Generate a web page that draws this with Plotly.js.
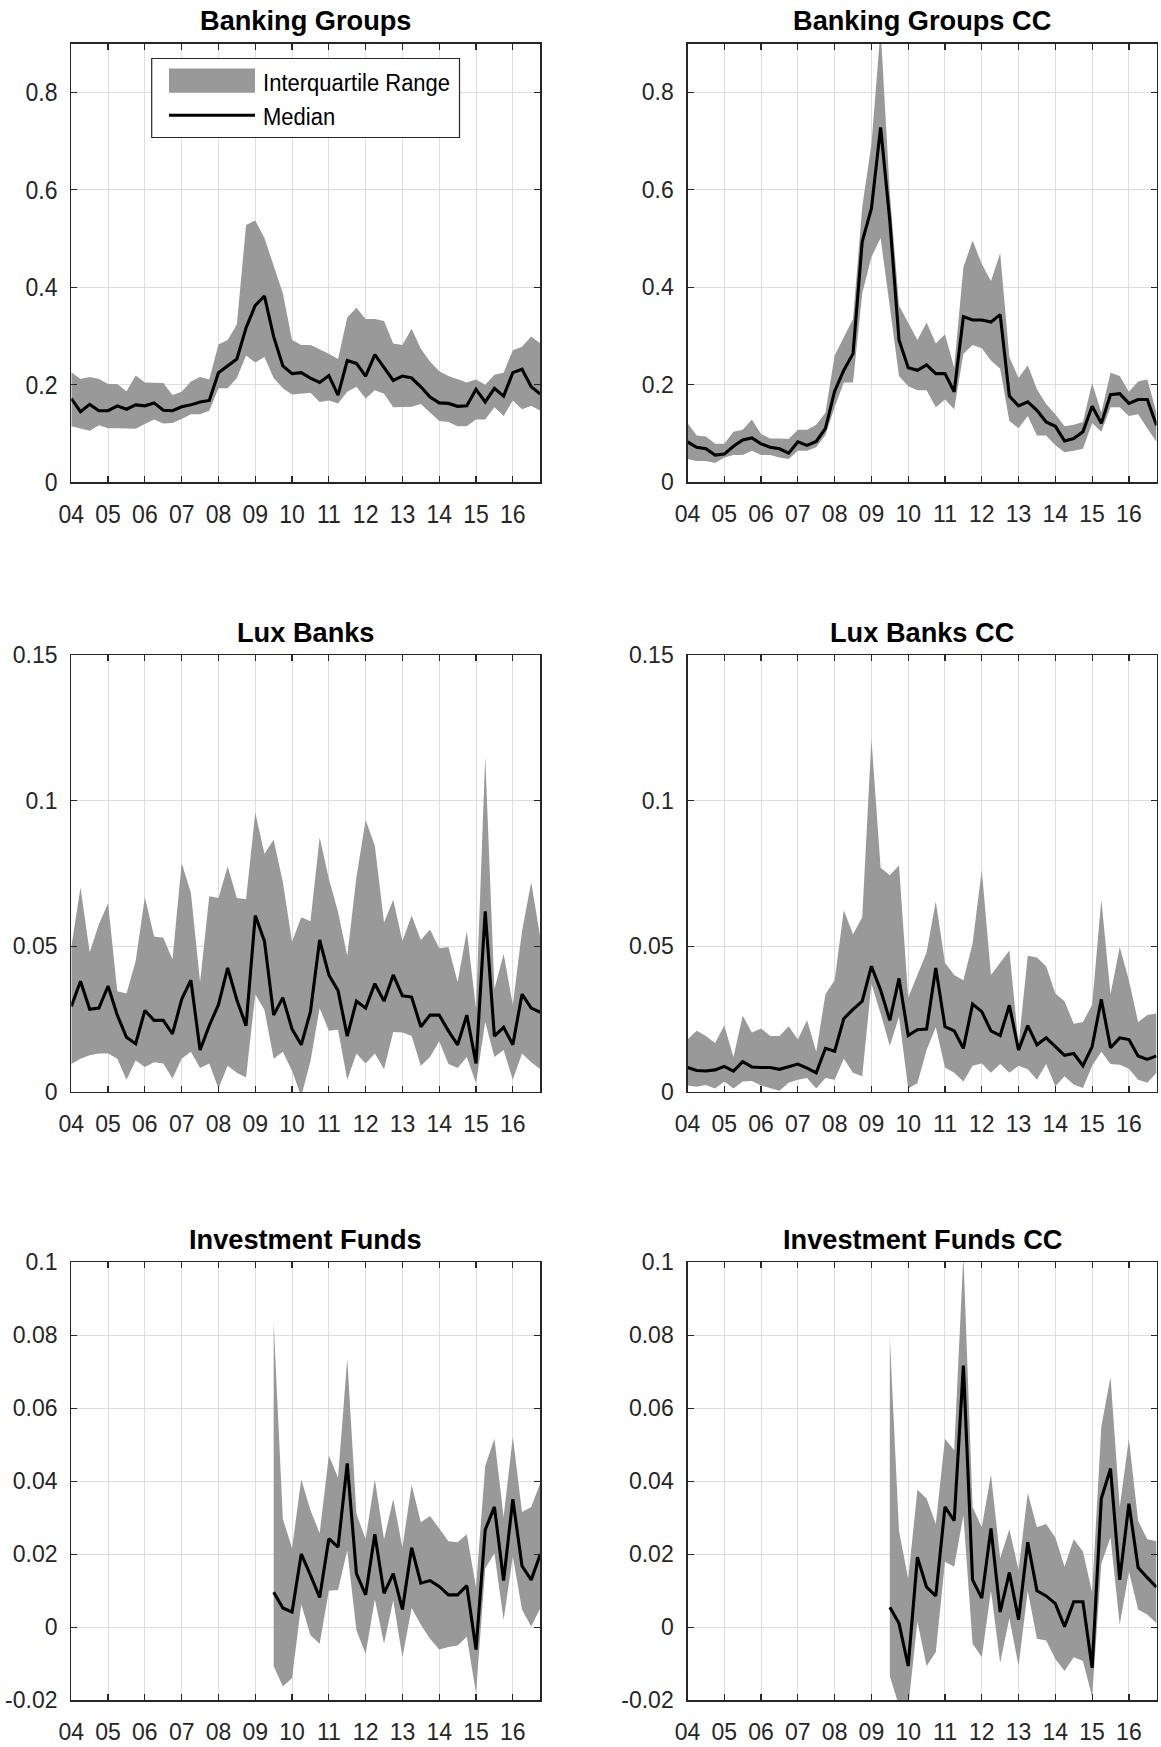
<!DOCTYPE html>
<html>
<head>
<meta charset="utf-8">
<script src="https://cdn.plot.ly/plotly-3.0.1.min.js"></script>
<style>
  html, body { margin: 0; padding: 0; background: #ffffff; }
  #chart { width: 1161px; height: 1747px; }
</style>
</head>
<body>
<div id="chart"></div>
<script>
// Quarterly observation dates (decimal years), 2004Q1 .. 2016Q4
const quarters = [
  2004.00, 2004.25, 2004.50, 2004.75, 2005.00, 2005.25, 2005.50, 2005.75,
  2006.00, 2006.25, 2006.50, 2006.75, 2007.00, 2007.25, 2007.50, 2007.75,
  2008.00, 2008.25, 2008.50, 2008.75, 2009.00, 2009.25, 2009.50, 2009.75,
  2010.00, 2010.25, 2010.50, 2010.75, 2011.00, 2011.25, 2011.50, 2011.75,
  2012.00, 2012.25, 2012.50, 2012.75, 2013.00, 2013.25, 2013.50, 2013.75,
  2014.00, 2014.25, 2014.50, 2014.75, 2015.00, 2015.25, 2015.50, 2015.75,
  2016.00, 2016.25, 2016.50, 2016.75
];

const yearTicks  = [2004, 2005, 2006, 2007, 2008, 2009, 2010, 2011, 2012, 2013, 2014, 2015, 2016];
const yearLabels = ['04', '05', '06', '07', '08', '09', '10', '11', '12', '13', '14', '15', '16'];

const bankingTicks  = [0, 0.2, 0.4, 0.6, 0.8];
const bankingLabels = ['0', '0.2', '0.4', '0.6', '0.8'];
const luxTicks      = [0, 0.05, 0.1, 0.15];
const luxLabels     = ['0', '0.05', '0.1', '0.15'];
const fundTicks     = [-0.02, 0, 0.02, 0.04, 0.06, 0.08, 0.1];
const fundLabels    = ['-0.02', '0', '0.02', '0.04', '0.06', '0.08', '0.1'];

// Banking Groups
const bgMed = [0.172,0.145,0.160,0.147,0.147,0.157,0.150,0.159,0.157,0.163,0.148,0.147,0.155,0.159,0.165,0.168,
  0.225,0.239,0.253,0.317,0.363,0.382,0.299,0.239, 0.223,0.225,0.214,0.205,0.219,0.179,0.250,0.244,
  0.218,0.262,0.235,0.209,0.218,0.214,0.196,0.175, 0.163,0.162,0.156,0.157,0.191,0.165,0.193,0.177,
  0.225,0.232,0.196,0.181];
const bgUp = [0.226,0.212,0.216,0.212,0.202,0.202,0.187,0.219,0.205,0.204,0.204,0.179,0.186,0.207,0.216,0.211,
  0.283,0.292,0.324,0.528,0.537,0.501,0.445,0.388, 0.292,0.282,0.282,0.273,0.264,0.253,0.338,0.358,
  0.335,0.335,0.331,0.285,0.282,0.315,0.274,0.248, 0.228,0.218,0.212,0.205,0.211,0.200,0.221,0.225,
  0.271,0.278,0.299,0.285];
const bgLo = [0.115,0.111,0.106,0.117,0.111,0.111,0.111,0.110,0.120,0.129,0.121,0.122,0.130,0.140,0.140,0.147,
  0.193,0.193,0.214,0.260,0.246,0.257,0.214,0.193, 0.180,0.182,0.184,0.165,0.168,0.162,0.186,0.196,
  0.172,0.189,0.182,0.154,0.155,0.155,0.161,0.143, 0.126,0.124,0.115,0.115,0.129,0.129,0.154,0.136,
  0.168,0.150,0.157,0.147];

// Banking Groups CC
const bgcMed = [0.083,0.072,0.069,0.056,0.058,0.074,0.087,0.091,0.079,0.072,0.069,0.060,0.083,0.076,0.084,0.111,
  0.187,0.230,0.264,0.494,0.562,0.728,0.537,0.292, 0.235,0.230,0.241,0.223,0.223,0.186,0.340,0.333,
  0.333,0.329,0.344,0.177,0.157,0.165,0.148,0.124, 0.115,0.085,0.090,0.104,0.156,0.121,0.180,0.182,
  0.162,0.170,0.170,0.117];
const bgcUp = [0.122,0.096,0.094,0.079,0.079,0.104,0.108,0.129,0.099,0.090,0.090,0.089,0.108,0.108,0.118,0.143,
  0.260,0.299,0.335,0.565,0.693,0.930,0.594,0.363, 0.328,0.292,0.328,0.285,0.304,0.235,0.441,0.496,
  0.448,0.413,0.470,0.257,0.214,0.240,0.191,0.161, 0.140,0.115,0.118,0.124,0.204,0.143,0.225,0.218,
  0.186,0.207,0.211,0.143];
const bgcLo = [0.048,0.044,0.044,0.040,0.051,0.056,0.056,0.065,0.056,0.056,0.051,0.048,0.065,0.065,0.072,0.097,
  0.154,0.205,0.205,0.388,0.462,0.501,0.360,0.218, 0.197,0.189,0.189,0.154,0.170,0.150,0.264,0.282,
  0.275,0.250,0.233,0.126,0.111,0.136,0.096,0.096, 0.076,0.062,0.065,0.069,0.122,0.104,0.154,0.154,
  0.136,0.140,0.111,0.083];

// Lux Banks
const lbMed = [0.0294,0.0380,0.0284,0.0288,0.0364,0.0264,0.0188,0.0166,0.0280,0.0246,0.0246,0.0200,0.0318,0.0384,0.0144,0.0228,
  0.0300,0.0426,0.0316,0.0228,0.0606,0.0518,0.0264,0.0324, 0.0216,0.0162,0.0276,0.0522,0.0402,0.0348,0.0192,0.0312,
  0.0288,0.0372,0.0312,0.0402,0.0330,0.0326,0.0224,0.0264, 0.0264,0.0210,0.0162,0.0264,0.0098,0.0620,0.0192,0.0222,
  0.0162,0.0336,0.0288,0.0274];
const lbUp = [0.0498,0.0702,0.0480,0.0576,0.0648,0.0346,0.0338,0.0450,0.0670,0.0534,0.0530,0.0456,0.0786,0.0684,0.0378,0.0672,
  0.0666,0.0774,0.0666,0.0662,0.0960,0.0818,0.0866,0.0720, 0.0516,0.0600,0.0586,0.0874,0.0732,0.0618,0.0468,0.0738,
  0.0934,0.0846,0.0582,0.0660,0.0518,0.0606,0.0522,0.0558, 0.0494,0.0498,0.0378,0.0552,0.0288,0.1152,0.0354,0.0474,
  0.0300,0.0552,0.0720,0.0528];
const lbLo = [0.0096,0.0114,0.0126,0.0132,0.0132,0.0114,0.0042,0.0108,0.0086,0.0102,0.0098,0.0046,0.0114,0.0138,0.0082,0.0098,
  0.0012,0.0090,0.0066,0.0050,0.0336,0.0282,0.0114,0.0138, 0.0072,-0.0015,0.0106,0.0288,0.0210,0.0214,0.0042,0.0132,
  0.0098,0.0132,0.0078,0.0206,0.0204,0.0192,0.0090,0.0120, 0.0174,0.0096,0.0082,0.0120,0.0030,0.0240,0.0120,0.0144,
  0.0042,0.0132,0.0102,0.0078];

// Lux Banks CC
const lbcMed = [0.0084,0.0074,0.0072,0.0076,0.0088,0.0072,0.0104,0.0086,0.0084,0.0084,0.0078,0.0086,0.0096,0.0082,0.0066,0.0150,
  0.0140,0.0252,0.0284,0.0312,0.0432,0.0350,0.0246,0.0390, 0.0194,0.0214,0.0216,0.0426,0.0224,0.0210,0.0150,0.0302,
  0.0276,0.0210,0.0194,0.0298,0.0144,0.0228,0.0162,0.0186, 0.0156,0.0126,0.0132,0.0090,0.0156,0.0318,0.0152,0.0186,
  0.0180,0.0124,0.0112,0.0124];
const lbcUp = [0.0180,0.0210,0.0192,0.0168,0.0228,0.0120,0.0262,0.0204,0.0218,0.0192,0.0192,0.0226,0.0180,0.0246,0.0138,0.0336,
  0.0384,0.0624,0.0542,0.0600,0.1212,0.0770,0.0744,0.0778, 0.0324,0.0402,0.0480,0.0654,0.0444,0.0402,0.0384,0.0510,
  0.0762,0.0402,0.0444,0.0486,0.0162,0.0468,0.0462,0.0432, 0.0338,0.0312,0.0234,0.0240,0.0300,0.0660,0.0336,0.0498,
  0.0384,0.0240,0.0264,0.0270];
const lbcLo = [0.0022,0.0018,0.0024,0.0012,0.0036,0.0012,0.0036,0.0038,0.0022,0.0014,0.0004,0.0032,0.0042,0.0048,0.0012,0.0048,
  0.0042,0.0114,0.0066,0.0054,0.0372,0.0270,0.0158,0.0258, 0.0012,0.0030,0.0144,0.0222,0.0084,0.0066,0.0036,0.0090,
  0.0098,0.0066,0.0096,0.0066,0.0090,0.0078,0.0042,0.0096, 0.0020,0.0054,0.0026,0.0014,0.0090,0.0138,0.0096,0.0094,
  0.0080,0.0042,0.0032,0.0066];

// Investment Funds (series starts in 2009Q3)
const ifMed = [null,null,null,null,null,null,null,null,null,null,null,null,null,null,null,null,null,null,null,null,null,null,
  0.0096,0.0053,0.0042,0.0201,0.0143,0.0082,0.0243,0.0220,0.0449,0.0147,0.0089,0.0255,0.0093,0.0147,0.0049,0.0218,
  0.0121,0.0128,0.0112,0.0089,0.0089,0.0114,-0.0061,0.0267,0.0330,0.0128,0.0351,0.0168,0.0130,0.0201];
const ifUp = [null,null,null,null,null,null,null,null,null,null,null,null,null,null,null,null,null,null,null,null,null,null,
  0.0836,0.0297,0.0217,0.0405,0.0321,0.0258,0.0471,0.0410,0.0736,0.0311,0.0241,0.0405,0.0241,0.0351,0.0219,0.0391,
  0.0288,0.0305,0.0271,0.0236,0.0233,0.0255,0.0110,0.0442,0.0517,0.0302,0.0522,0.0316,0.0330,0.0396];
const ifLo = [null,null,null,null,null,null,null,null,null,null,null,null,null,null,null,null,null,null,null,null,null,null,
  -0.0106,-0.0162,-0.0139,0.0063,-0.0022,-0.0045,0.0100,0.0102,0.0211,-0.0008,-0.0073,0.0077,-0.0045,0.0074,-0.0082,0.0053,
  0.0007,-0.0031,-0.0061,-0.0054,-0.0050,-0.0026,-0.0181,0.0161,0.0203,0.0021,0.0194,0.0049,0.0002,0.0053];

// Investment Funds CC (series starts in 2009Q3)
const ifcMed = [null,null,null,null,null,null,null,null,null,null,null,null,null,null,null,null,null,null,null,null,null,null,
  0.0055,0.0011,-0.0106,0.0192,0.0110,0.0086,0.0330,0.0292,0.0717,0.0130,0.0080,0.0271,0.0042,0.0150,0.0021,0.0233,
  0.0100,0.0086,0.0065,0.0002,0.0070,0.0070,-0.0111,0.0353,0.0435,0.0130,0.0339,0.0164,0.0136,0.0110];
const ifcUp = [null,null,null,null,null,null,null,null,null,null,null,null,null,null,null,null,null,null,null,null,null,null,
  0.0794,0.0264,0.0133,0.0377,0.0353,0.0283,0.0517,0.0485,0.1020,0.0330,0.0274,0.0419,0.0189,0.0269,0.0157,0.0368,
  0.0274,0.0283,0.0246,0.0166,0.0241,0.0208,0.0096,0.0550,0.0686,0.0330,0.0517,0.0292,0.0241,0.0236];
const ifcLo = [null,null,null,null,null,null,null,null,null,null,null,null,null,null,null,null,null,null,null,null,null,null,
  -0.0134,-0.0215,-0.0220,0.0016,-0.0106,-0.0068,0.0180,0.0166,0.0307,-0.0045,-0.0082,0.0100,-0.0097,0.0025,-0.0106,0.0100,
  -0.0031,-0.0036,-0.0087,-0.0120,-0.0082,-0.0092,-0.0190,0.0175,0.0246,0.0007,0.0152,0.0049,0.0035,0.0011];

const panels = [
  { title: 'Banking Groups',       med: bgMed,  up: bgUp,  lo: bgLo,  ticks: bankingTicks, labels: bankingLabels, range: [0, 0.9] },
  { title: 'Banking Groups CC',    med: bgcMed, up: bgcUp, lo: bgcLo, ticks: bankingTicks, labels: bankingLabels, range: [0, 0.9] },
  { title: 'Lux Banks',            med: lbMed,  up: lbUp,  lo: lbLo,  ticks: luxTicks,     labels: luxLabels,     range: [0, 0.15] },
  { title: 'Lux Banks CC',         med: lbcMed, up: lbcUp, lo: lbcLo, ticks: luxTicks,     labels: luxLabels,     range: [0, 0.15] },
  { title: 'Investment Funds',     med: ifMed,  up: ifUp,  lo: ifLo,  ticks: fundTicks,    labels: fundLabels,    range: [-0.02, 0.1] },
  { title: 'Investment Funds CC',  med: ifcMed, up: ifcUp, lo: ifcLo, ticks: fundTicks,    labels: fundLabels,    range: [-0.02, 0.1] }
];

// Page geometry (pixels)
const W = 1161, H = 1747;
const px = v => v / W;
const py = v => 1 - v / H;
const colPx = [[71.3, 540.4], [687.5, 1156.5]];
const rowPx = [[43.5, 482.4], [655.2, 1092.0], [1262.4, 1700.3]];

const FONT = 'Liberation Sans, Arial, Helvetica, sans-serif';
const AXIS_COLOR = '#262626';
const BAND_COLOR = '#999999';
const MEDIAN_WIDTH = 3.1;

const traces = [];
const annotations = [];
const layout = {
  width: W, height: H,
  margin: { l: 0, r: 0, t: 0, b: 0, pad: 0 },
  paper_bgcolor: '#ffffff',
  plot_bgcolor: '#ffffff',
  showlegend: false,
  font: { family: FONT, color: AXIS_COLOR },
  shapes: [],
  annotations: annotations
};

panels.forEach((p, k) => {
  const r = Math.floor(k / 2), c = k % 2;
  const n = k + 1;
  const xa = n === 1 ? 'x' : 'x' + n;
  const ya = n === 1 ? 'y' : 'y' + n;
  const idx = quarters.map((q, i) => i).filter(i => p.med[i] !== null);
  const xs = idx.map(i => quarters[i]);

  traces.push({
    type: 'scatter', mode: 'lines', name: 'Lower quartile',
    x: xs, y: idx.map(i => p.lo[i]), xaxis: xa, yaxis: ya,
    line: { width: 0, color: BAND_COLOR }, hoverinfo: 'skip'
  });
  traces.push({
    type: 'scatter', mode: 'lines', name: 'Interquartile Range',
    x: xs, y: idx.map(i => p.up[i]), xaxis: xa, yaxis: ya,
    fill: 'tonexty', fillcolor: BAND_COLOR,
    line: { width: 0, color: BAND_COLOR }, hoverinfo: 'skip'
  });
  traces.push({
    type: 'scatter', mode: 'lines', name: 'Median',
    x: xs, y: idx.map(i => p.med[i]), xaxis: xa, yaxis: ya,
    line: { width: MEDIAN_WIDTH, color: '#000000' }
  });

  const common = {
    showgrid: true, gridcolor: '#dedede', gridwidth: 1,
    zeroline: false, showline: true, linecolor: AXIS_COLOR, linewidth: 1.2,
    mirror: 'ticks', ticks: 'inside', ticklen: 6, tickwidth: 1.2, tickcolor: AXIS_COLOR,
    tickfont: { family: FONT, size: 23, color: AXIS_COLOR },
    fixedrange: true
  };
  layout['xaxis' + (n === 1 ? '' : n)] = Object.assign({}, common, {
    domain: [px(colPx[c][0]), px(colPx[c][1])],
    anchor: ya,
    range: [2004, 2016.75],
    tickmode: 'array', tickvals: yearTicks, ticktext: yearLabels,
    ticklabelstandoff: 11
  });
  layout['yaxis' + (n === 1 ? '' : n)] = Object.assign({}, common, {
    domain: [py(rowPx[r][1]), py(rowPx[r][0])],
    anchor: xa,
    range: p.range,
    tickmode: 'array', tickvals: p.ticks, ticktext: p.labels,
    ticklabelstandoff: 8
  });

  annotations.push({
    xref: 'paper', yref: 'paper',
    x: px((colPx[c][0] + colPx[c][1]) / 2), y: py(rowPx[r][0] - 23),
    xanchor: 'center', yanchor: 'middle', showarrow: false,
    text: '<b>' + p.title + '</b>',
    font: { family: FONT, size: 27.2, color: '#000000' }
  });
});

// Legend box in the first panel
layout.shapes.push(
  { type: 'rect', xref: 'paper', yref: 'paper', layer: 'above',
    x0: px(151.7), x1: px(459.5), y0: py(58.5), y1: py(137.5),
    fillcolor: '#ffffff', line: { color: '#262626', width: 1.2 } },
  { type: 'rect', xref: 'paper', yref: 'paper', layer: 'above',
    x0: px(169), x1: px(255), y0: py(68.5), y1: py(92.7),
    fillcolor: BAND_COLOR, line: { width: 0 } },
  { type: 'line', xref: 'paper', yref: 'paper', layer: 'above',
    x0: px(169), x1: px(255), y0: py(115.2), y1: py(115.2),
    line: { color: '#000000', width: MEDIAN_WIDTH } }
);
annotations.push(
  { xref: 'paper', yref: 'paper', x: px(261), y: py(82.5), xanchor: 'left', yanchor: 'middle',
    showarrow: false, text: 'Interquartile Range', font: { family: FONT, size: 22, color: '#000000' } },
  { xref: 'paper', yref: 'paper', x: px(261), y: py(116.5), xanchor: 'left', yanchor: 'middle',
    showarrow: false, text: 'Median', font: { family: FONT, size: 22, color: '#000000' } }
);

// The axis and legend lettering is set in a tall, narrow face: keep the
// width of the sans-serif glyphs and stretch them vertically about their centre.
function stretchText(nodes, s) {
  nodes.forEach(t => {
    const b = t.getBBox();
    const cx = b.x + b.width / 2, cy = b.y + b.height / 2;
    const prev = t.getAttribute('transform') || '';
    t.setAttribute('transform',
      prev + ' translate(' + cx + ',' + cy + ') scale(1,' + s + ') translate(' + (-cx) + ',' + (-cy) + ')');
  });
}

Plotly.newPlot('chart', traces, layout, { staticPlot: true, displayModeBar: false }).then(gd => {
  stretchText(gd.querySelectorAll('.xtick text, .ytick text'), 1.13);
  const notes = Array.from(gd.querySelectorAll('.annotation-text'))
    .filter(t => t.textContent === 'Interquartile Range' || t.textContent === 'Median');
  stretchText(notes, 1.12);
});
</script>
</body>
</html>
